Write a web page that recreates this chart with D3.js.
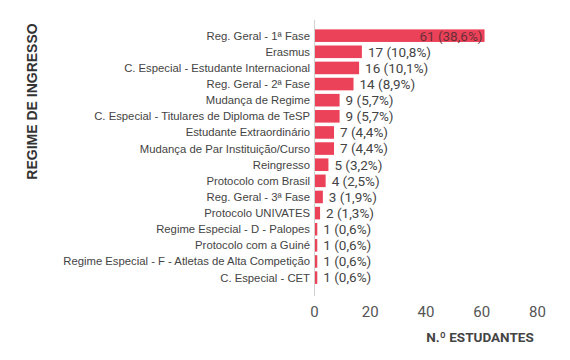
<!DOCTYPE html>
<html><head><meta charset="utf-8">
<script src="https://cdn.jsdelivr.net/npm/d3@7"></script>
<style>body{margin:0;background:#fff}svg{display:block}</style>
</head><body><svg id="c" width="570" height="360"></svg>
<script>
const categories = ["Reg. Geral - 1ª Fase","Erasmus","C. Especial - Estudante Internacional","Reg. Geral - 2ª Fase","Mudança de Regime","C. Especial - Titulares de Diploma de TeSP","Estudante Extraordinário","Mudança de Par Instituição/Curso","Reingresso","Protocolo com Brasil","Reg. Geral - 3ª Fase","Protocolo UNIVATES","Regime Especial - D - Palopes","Protocolo com a Guiné","Regime Especial - F - Atletas de Alta Competição","C. Especial - CET"];
const values = [61,17,16,14,9,9,7,7,5,4,3,2,1,1,1,1];
const percents = ["38,6%","10,8%","10,1%","8,9%","5,7%","5,7%","4,4%","4,4%","3,2%","2,5%","1,9%","1,3%","0,6%","0,6%","0,6%","0,6%"];
const xTicks = [0,20,40,60,80];

const svg = d3.select("#c");
const x = d3.scaleLinear().domain([0,80]).range([314.5,537.5]);
const y = d3.scaleBand().domain(categories).range([27.6,27.6+16.13*16]).paddingInner(0.22).paddingOuter(0.11);

const red = "#ec4259";
svg.append("line").attr("x1",314.5).attr("x2",314.5).attr("y1",20).attr("y2",296).attr("stroke","#d0d0d0").attr("stroke-width",1);

svg.selectAll("rect.bar").data(categories).enter().append("rect")
  .attr("x", x(0)+0.5).attr("y", d=>y(d)).attr("height", y.bandwidth())
  .attr("width", (d,i)=>Math.max(1.5, x(values[i])-x(0)-0.5)).attr("fill", red);

svg.selectAll("text.cat").data(categories).enter().append("text")
  .attr("x",310).attr("y",d=>y(d)+y.bandwidth()/2).attr("dy","0.35em")
  .attr("text-anchor","end").attr("font-family","Liberation Sans, Arial, sans-serif")
  .attr("font-size","11.3px").attr("fill","#444").text(d=>d);

svg.selectAll("text.val").data(categories).enter().append("text")
  .attr("x",(d,i)=> values[i] > 50 ? x(values[i]) - 2 : x(values[i]) + 6)
  .attr("y",d=>y(d)+y.bandwidth()/2).attr("dy","0.36em")
  .attr("text-anchor",(d,i)=> values[i] > 50 ? "end" : "start")
  .attr("font-family","Roboto, Liberation Sans, sans-serif").attr("font-size","13.5px")
  .attr("fill",(d,i)=> values[i] > 50 ? "#6a2e38" : "#444")
  .text((d,i)=> values[i] + " (" + percents[i] + ")");

const ax = svg.append("g").attr("transform","translate(0,312)");
ax.selectAll("text").data(xTicks).enter().append("text")
  .attr("x",d=>x(d)).attr("dy","0.35em").attr("text-anchor","middle")
  .attr("font-family","Roboto, Liberation Sans, sans-serif").attr("font-size","15px")
  .attr("fill","#555")
  .text(d=>d);

svg.append("text").attr("x",480).attr("y",337).attr("dy","0.35em").attr("text-anchor","middle")
  .attr("font-family","Roboto, Liberation Sans, sans-serif").attr("font-weight","bold").attr("font-size","13.5px")
  .attr("fill","#444").text("N.º ESTUDANTES");

svg.append("text").attr("transform","translate(32,101.5) rotate(-90)").attr("dy","0.35em").attr("text-anchor","middle")
  .attr("font-family","Liberation Sans, Arial, sans-serif").attr("font-weight","bold").attr("font-size","14px")
  .attr("fill","#333").text("REGIME DE INGRESSO");
</script></body></html>
